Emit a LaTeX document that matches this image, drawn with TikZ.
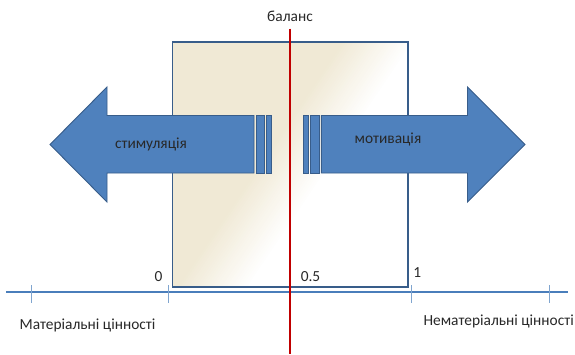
\documentclass[tikz,border=0pt]{standalone}
\usepackage{fontspec}
\setmainfont{Carlito}
\definecolor{arrowblue}{RGB}{79,129,189}
\definecolor{edgeblue}{RGB}{56,93,138}
\definecolor{axisblue}{RGB}{74,126,187}
\definecolor{balred}{RGB}{192,0,0}
\definecolor{tan}{RGB}{240,233,213}
\definecolor{txt}{RGB}{40,40,40}
\tikzset{
  lbl/.style={font=\fontsize{15.4}{18}\selectfont, text=txt, inner sep=0pt},
  bluearrow/.style={fill=arrowblue, draw=edgeblue, line width=0.9pt, line join=miter},
  tick/.style={draw=axisblue!70, line width=0.6pt},
}
\begin{document}
\begin{tikzpicture}[x=1pt, y=-1pt]
\useasboundingbox (0,0) rectangle (575,354);

% value range 0..1: tan in the upper left, fading to white towards the lower right
\begin{scope}
  \clip (172.5,42) rectangle (408,287);
  \begin{scope}[shift={(284,180)}, rotate=-34]
    \fill[tan] (-400,-400) rectangle (400,400);
    \foreach \i in {1,...,28} {
      \pgfmathsetmacro{\u}{-30+2.1*\i}
      \pgfmathsetmacro{\p}{100*\i/28}
      \fill[white!\p!tan] (\u,-400) rectangle (400,400);
    }
  \end{scope}
\end{scope}
\draw[edgeblue, line width=1.3pt] (172.5,42) rectangle (408,287);

% value axis with ticks
\coordinate (axL) at (6,292);
\coordinate (axR) at (568,292);
\draw[axisblue, line width=1.6pt] (axL) -- (axR);
\foreach \tx in {31,168,411.5,549}
  \draw[tick] (\tx,285) -- (\tx,303);

% left striped arrow: stimulation
\draw[bluearrow] (254,115.5) -- (107,115.5) -- (107,87) -- (50,144.5)
  -- (107,202) -- (107,173) -- (254,173) -- cycle;
\draw[bluearrow] (256,115.5) rectangle (264.5,173);
\draw[bluearrow] (266.5,115.5) rectangle (271.2,173);

% right striped arrow: motivation
\draw[bluearrow] (321.3,115.5) -- (467.5,115.5) -- (467.5,87) -- (525,144.5)
  -- (467.5,202) -- (467.5,173) -- (321.3,173) -- cycle;
\draw[bluearrow] (303.6,115.5) rectangle (308.8,173);
\draw[bluearrow] (310.8,115.5) rectangle (319.2,173);

\node[lbl] (stim) at (151,144.5) {стимуляція};
\node[lbl] (motiv) at (388,139.5) {мотивація};

% balance line
\node[lbl] (bal) at (290,16) {баланс};
\coordinate (balTop) at (290,28.5);
\coordinate (balBot) at (290,354);
\draw[balred, line width=2.4pt] (balTop) -- (balBot);

% scale values and axis captions
\node[lbl] (v0) at (158.5,277) {0};
\node[lbl] (v05) at (310.5,277) {0.5};
\node[lbl] (v1) at (417.3,273) {1};
\node[lbl] (mat) at (87.5,325) {Матеріальні цінності};
\node[lbl] (nemat) at (498.7,321.5) {Нематеріальні цінності};
\end{tikzpicture}
\end{document}
